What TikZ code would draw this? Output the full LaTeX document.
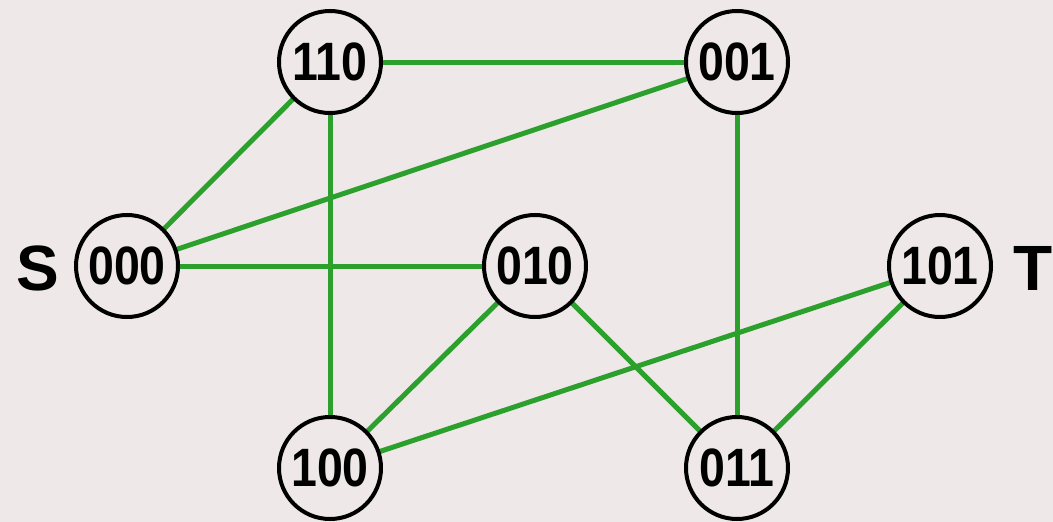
\documentclass[tikz,border=0pt]{standalone}
\usepackage{fontspec}
\setmainfont{Liberation Sans}
\definecolor{paper}{RGB}{238,232,232}
\definecolor{edgegreen}{RGB}{44,160,44}
\pgfdeclarelayer{paperlayer}
\pgfdeclarelayer{edgelayer}
\pgfsetlayers{paperlayer,edgelayer,main}
\newcommand{\digits}[1]{\scalebox{0.86}[1]{#1}}
\begin{document}
\begin{tikzpicture}[x=1pt,y=-1pt,
  vertex/.style={circle, draw=black, line width=4pt, fill=paper,
    minimum size=102pt, inner sep=0pt,
    font=\fontsize{54}{54}\selectfont\bfseries},
  tag/.style={font=\fontsize{64}{64}\selectfont\bfseries, inner sep=0pt},
  link/.style={edgegreen, line width=5pt}]
  % page and background
  \begin{pgfonlayer}{paperlayer}
    \fill[paper] (0,0) rectangle (1053,522);
  \end{pgfonlayer}
  \useasboundingbox (0,0) rectangle (1053,522);
  % vertices
  \node[vertex] (n110) at (330,62)  {\digits{110}};
  \node[vertex] (n001) at (737,62)  {\digits{001}};
  \node[vertex] (n000) at (127,266) {\digits{000}};
  \node[vertex] (n010) at (535,266) {\digits{010}};
  \node[vertex] (n101) at (940,266) {\digits{101}};
  \node[vertex] (n100) at (330,468) {\digits{100}};
  \node[vertex] (n011) at (737,468) {\digits{011}};
  % source and target labels
  \node[tag] (s) at (38,268) {S};
  \node[tag] (t) at (1033,268) {T};
  % edges, kept behind the vertices
  \begin{pgfonlayer}{edgelayer}
    \draw[link] (n110.center) -- (n001.center);
    \draw[link] (n110.center) -- (n000.center);
    \draw[link] (n110.center) -- (n100.center);
    \draw[link] (n001.center) -- (n000.center);
    \draw[link] (n001.center) -- (n011.center);
    \draw[link] (n000.center) -- (n010.center);
    \draw[link] (n010.center) -- (n100.center);
    \draw[link] (n010.center) -- (n011.center);
    \draw[link] (n101.center) -- (n100.center);
    \draw[link] (n101.center) -- (n011.center);
  \end{pgfonlayer}
\end{tikzpicture}
\end{document}
